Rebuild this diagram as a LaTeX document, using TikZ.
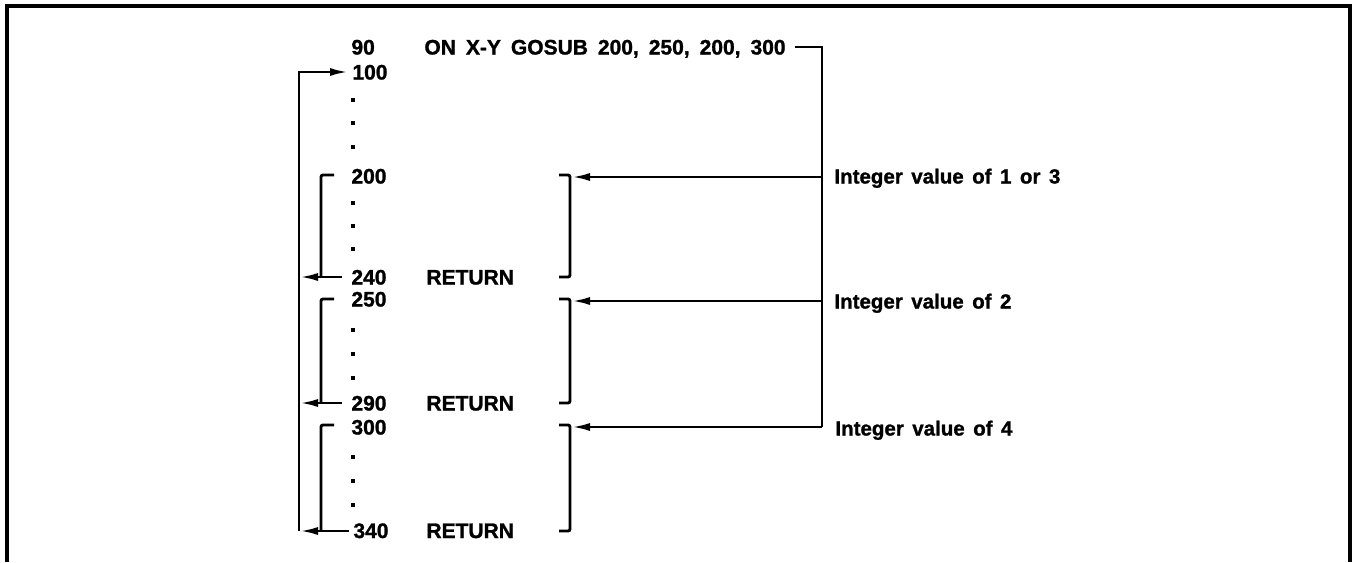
\documentclass[tikz,border=0pt]{standalone}
\usepackage{fontspec}
\setmainfont{Liberation Sans}[UprightFont={* Bold},UprightFeatures={FakeBold=1.2}]
\usetikzlibrary{arrows.meta}
\newcommand\widespace{\spaceskip=10pt plus 0pt minus 0pt\relax}
\newcommand\labspace{\spaceskip=8.5pt plus 0pt minus 0pt\relax}
\begin{document}
\begin{tikzpicture}[x=1pt,y=-1pt,line width=2.9pt,
  txt/.style={anchor=base west,inner sep=0pt,font=\fontsize{21}{24}\selectfont},
  lab/.style={anchor=base west,inner sep=0pt,font=\fontsize{20.5}{24}\selectfont},
  arr/.style={-{Latex[length=19pt,width=8pt]}},
  dotmark/.style={fill,draw=none,minimum size=4pt,inner sep=0pt},
  bracket/.style={rounded corners=2pt},
  frame/.style={line width=3.4pt}]
\useasboundingbox (0,0) rectangle (1354,562);
% frame
\draw[frame] (7,562) -- (7,6) -- (1350,6) -- (1350,562);
% line numbers and statements
\node[txt] (n90) at (350,54.5) {90};
\node[txt] (gosub) at (423,54.5) {\widespace ON X-Y GOSUB 200, 250, 200, 300};
\node[txt] (n100) at (351,79.5) {100};
\node[txt] (n200) at (350,183.5) {200};
\node[txt] (n240) at (350,284.5) {240};
\node[txt] (r240) at (425,284.5) {RETURN};
\node[txt] (n250) at (350,306.5) {250};
\node[txt] (n290) at (350,410.5) {290};
\node[txt] (r290) at (425,410.5) {RETURN};
\node[txt] (n300) at (350,434.5) {300};
\node[txt] (n340) at (352,538) {340};
\node[txt] (r340) at (425,538) {RETURN};
% labels
\node[lab] (lab1) at (833,183.5) {\labspace Integer value of 1 or 3};
\node[lab] (lab2) at (833,308.5) {\labspace Integer value of 2};
\node[lab] (lab4) at (834,435.5) {\labspace Integer value of 4};
% dots
\foreach \yy [count=\i] in {100,123,147,203,226,249,330,354,378,457,481,505}
  \node[dotmark] (dot\i) at (353,\yy) {};
% left loop
\coordinate (oTop) at (299,72);
\coordinate (o240) at (299,277);
\coordinate (o290) at (299,403);
\coordinate (o340) at (299,531);
\draw[arr] (o340) -- (oTop) -- ([xshift=-2pt]n100.west |- oTop);
\draw[arr] ([xshift=-8pt]n240.west |- o240) -- (o240);
\draw[arr] ([xshift=-8pt]n290.west |- o290) -- (o290);
\draw[arr] ([xshift=-3pt]n340.west |- o340) -- (o340);
% inner left brackets
\coordinate (i1t) at (334,175); \coordinate (i1b) at (321,277);
\coordinate (i2t) at (334,299); \coordinate (i2b) at (321,403);
\coordinate (i3t) at (334,425); \coordinate (i3b) at (321,531);
\draw[bracket] (i1t) -- (i1t -| i1b) -- (i1b);
\draw[bracket] (i2t) -- (i2t -| i2b) -- (i2b);
\draw[bracket] (i3t) -- (i3t -| i3b) -- (i3b);
% right brackets
\coordinate (b1t) at (559,175); \coordinate (b1b) at (559,277);
\coordinate (b2t) at (559,299); \coordinate (b2b) at (559,403);
\coordinate (b3t) at (559,425); \coordinate (b3b) at (559,531);
\draw[bracket] (b1t) -- (570,175) -- (570,277) -- (b1b);
\draw[bracket] (b2t) -- (570,299) -- (570,403) -- (b2b);
\draw[bracket] (b3t) -- (570,425) -- (570,531) -- (b3b);
% right distribution
\coordinate (jTop) at (822,47);
\coordinate (j1) at (822,177);
\coordinate (j2) at (822,301);
\coordinate (j4) at (822,427);
\draw ([xshift=8pt]gosub.east |- jTop) -- (jTop) -- (j4);
\draw[arr] (j1) -- (571,177);
\draw[arr] (j2) -- (571,301);
\draw[arr] (j4) -- (571,427);
\end{tikzpicture}
\end{document}
